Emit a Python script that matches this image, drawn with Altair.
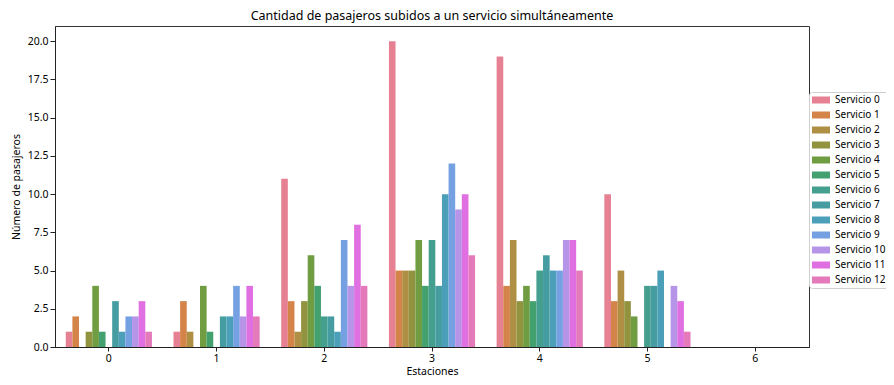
import math
import colorsys
import altair as alt
import pandas as pd

# ---------------- data ----------------
stations = [0, 1, 2, 3, 4, 5, 6]
services = [f"Servicio {i}" for i in range(13)]

# passengers per service (Servicio 0 .. Servicio 12) at each station
station_0 = [1, 2, 0, 1, 4, 1, 0, 3, 1, 2, 2, 3, 1]
station_1 = [1, 3, 1, 0, 4, 1, 0, 2, 2, 4, 2, 4, 2]
station_2 = [11, 3, 1, 3, 6, 4, 2, 2, 1, 7, 4, 8, 4]
station_3 = [20, 5, 5, 5, 7, 4, 7, 4, 10, 12, 9, 10, 6]
station_4 = [19, 4, 7, 3, 4, 3, 5, 6, 5, 5, 7, 7, 5]
station_5 = [10, 3, 5, 3, 2, 0, 4, 4, 5, 0, 4, 3, 1]
station_6 = [0, 0, 0, 0, 0, 0, 0, 0, 0, 0, 0, 0, 0]
counts = [station_0, station_1, station_2, station_3, station_4, station_5, station_6]

y_ticks = [0, 2.5, 5, 7.5, 10, 12.5, 15, 17.5, 20]

# ---------------- seaborn-like husl palette ----------------
_m = [[3.2406, -1.5372, -0.4986],
      [-0.9689, 1.8758, 0.0415],
      [0.0557, -0.2040, 1.0570]]
_refU, _refV = 0.19784, 0.46834


def _max_chroma(L, H):
    hrad = math.radians(H)
    sinH, cosH = math.sin(hrad), math.cos(hrad)
    sub1 = (L + 16) ** 3 / 1560896.0
    sub2 = sub1 if sub1 > 0.008856 else L / 903.3
    result = float("inf")
    for m1, m2, m3 in _m:
        top = (0.99915 * m1 + 1.05122 * m2 + 1.14460 * m3) * sub2
        rbottom = 0.86330 * m3 - 0.17266 * m2
        lbottom = 0.12949 * m3 - 0.38848 * m1
        bottom = (rbottom * sinH + lbottom * cosH) * sub2
        for t in (0.0, 1.0):
            C = L * (top - 1.05122 * t) / (bottom + 0.17266 * sinH * t)
            if 0.0 < C < result:
                result = C
    return result


def _f_inv(t):
    return t ** 3 if t ** 3 > 0.008856 else (116.0 * t - 16.0) / 903.3


def _from_linear(c):
    return 12.92 * c if c <= 0.0031308 else 1.055 * c ** (1 / 2.4) - 0.055


def husl_to_rgb(h, s, l):
    C = _max_chroma(l, h) / 100.0 * s
    U = math.cos(math.radians(h)) * C
    V = math.sin(math.radians(h)) * C
    Y = _f_inv((l + 16.0) / 116.0)
    varU = U / (13.0 * l) + _refU
    varV = V / (13.0 * l) + _refV
    X = 0.0 - (9.0 * Y * varU) / ((varU - 4.0) * varV - varU * varV)
    Z = (9.0 * Y - 15.0 * varV * Y - varV * X) / (3.0 * varV)
    xyz = [X, Y, Z]
    rgb = [_from_linear(sum(a * b for a, b in zip(row, xyz))) for row in _m]
    return [min(max(c, 0.0), 1.0) for c in rgb]


def palette(n, h=0.01, s=0.9, l=0.65, sat=0.75):
    out = []
    for i in range(n):
        hue = ((i / n) + h) % 1 * 359
        r, g, b = husl_to_rgb(hue, s * 99, l * 99)
        hh, ll, ss = colorsys.rgb_to_hls(r, g, b)
        r, g, b = colorsys.hls_to_rgb(hh, ll, ss * sat)
        out.append("#%02x%02x%02x" % tuple(int(round(c * 255)) for c in (r, g, b)))
    return out


colors = palette(len(services))

# ---------------- table ----------------
rows = []
for st, vals in zip(stations, counts):
    for sv, v in zip(services, vals):
        rows.append({"Estación": st, "Servicio": sv, "Pasajeros": v})
df = pd.DataFrame(rows)

FONT = "Noto Sans"

chart = (
    alt.Chart(df)
    .mark_bar(strokeWidth=0)
    .encode(
        x=alt.X(
            "Estación:O",
            sort=stations,
            scale=alt.Scale(paddingInner=0.2, paddingOuter=0.1),
            axis=alt.Axis(title="Estaciones", labelAngle=0, tickSize=4,
                          labelPadding=2, titlePadding=3),
        ),
        xOffset=alt.XOffset(
            "Servicio:N", sort=services,
            scale=alt.Scale(paddingInner=0, paddingOuter=0),
        ),
        y=alt.Y(
            "Pasajeros:Q",
            scale=alt.Scale(domain=[0, 21], nice=False),
            axis=alt.Axis(title="Número de pasajeros", values=y_ticks,
                          format=".1f", titlePadding=6, tickSize=5),
        ),
        color=alt.Color(
            "Servicio:N",
            sort=services,
            scale=alt.Scale(domain=services, range=colors),
            legend=alt.Legend(
                title=None,
                orient="none",
                legendX=754,
                legendY=66,
                symbolType="M-1,-0.7L2.6,-0.7L2.6,0.7L-1,0.7Z",
                symbolSize=100,
                symbolStrokeWidth=0,
                labelFont=FONT,
                labelFontSize=10,
                labelColor="black",
                labelOffset=13,
                rowPadding=5,
                padding=3,
                strokeColor="#d0d0d0",
                fillColor="white",
                cornerRadius=3,
            ),
        ),
    )
    .properties(
        width=754,
        height=321,
        title=alt.TitleParams(
            "Cantidad de pasajeros subidos a un servicio simultáneamente",
            font=FONT, fontSize=12.5, fontWeight="normal", color="black",
            anchor="middle", offset=4,
        ),
        autosize=alt.AutoSizeParams(type="none"),
        padding={"left": 47, "top": 18, "right": 77, "bottom": 30},
    )
    .configure_view(stroke="#333333", strokeWidth=1)
    .configure_axis(
        grid=False,
        domainColor="#222222",
        tickColor="#222222",
        labelFont=FONT,
        labelFontSize=10.5,
        labelColor="black",
        titleFont=FONT,
        titleFontSize=10.5,
        titleFontWeight="normal",
        titleColor="black",
    )
)

chart.save("out.html", embed_options={"renderer": "svg", "actions": False})
